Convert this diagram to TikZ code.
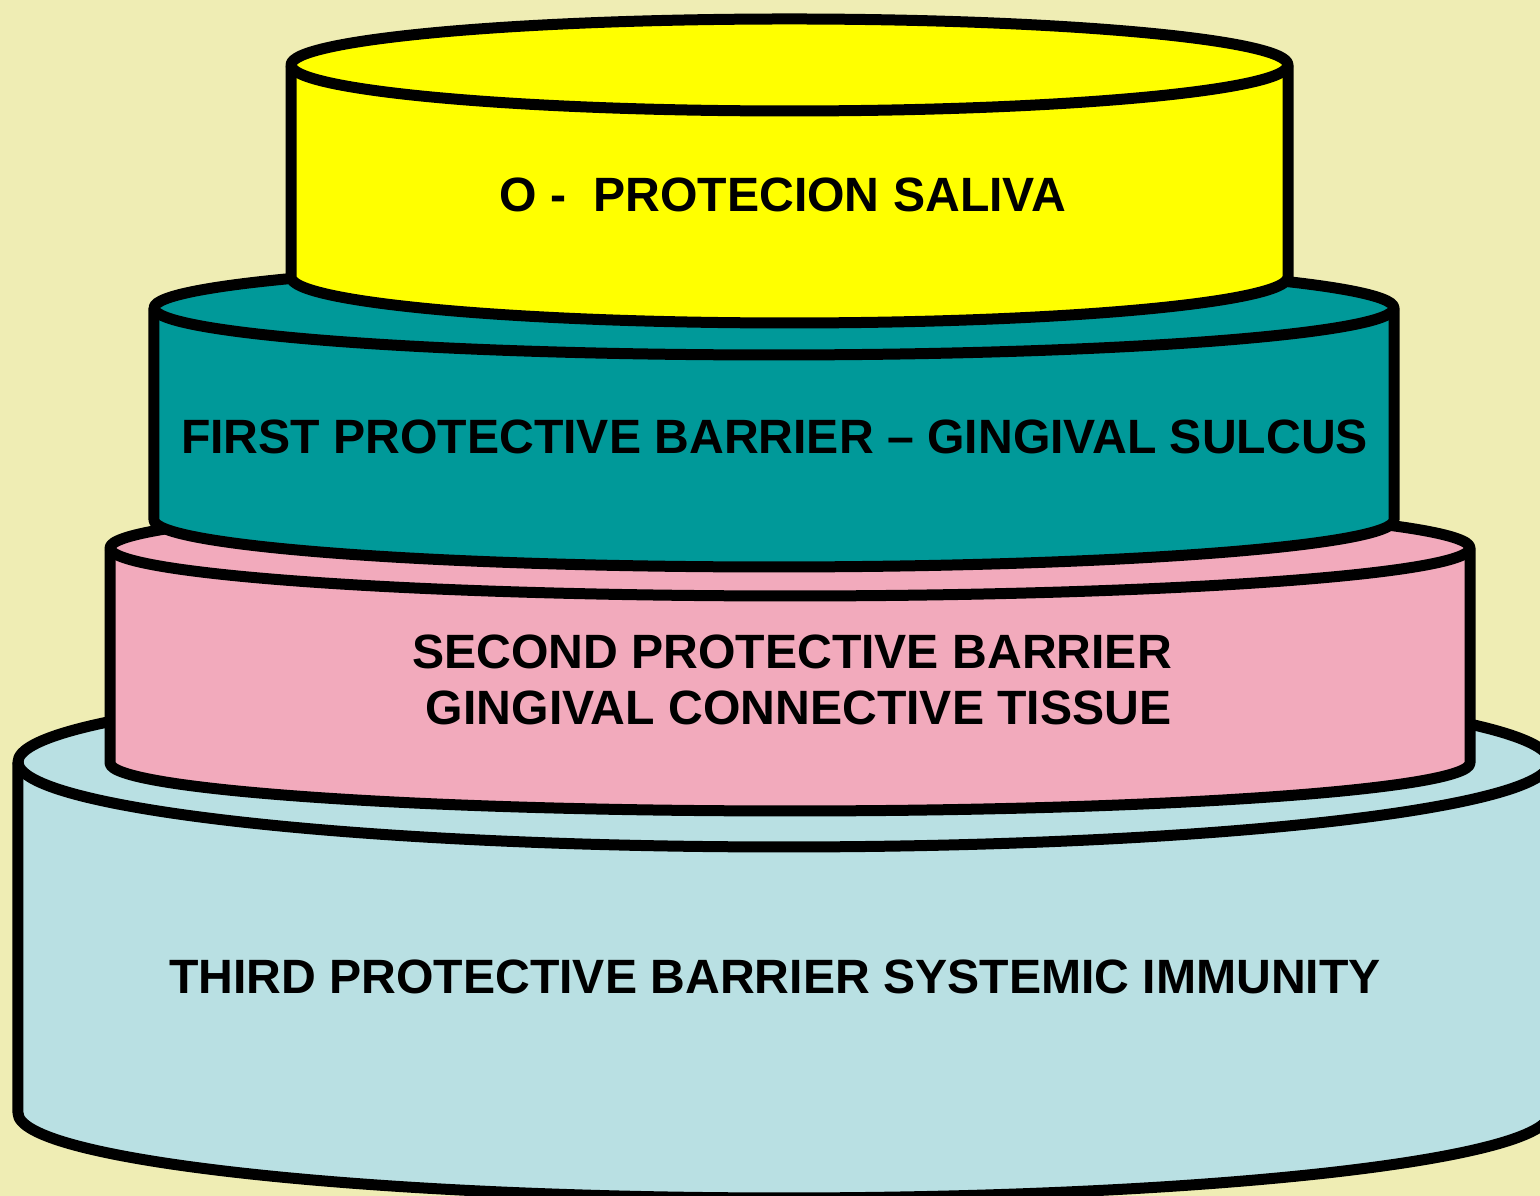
\documentclass[tikz,border=0pt]{standalone}
\usepackage{fontspec}
\setmainfont{Liberation Sans}
\definecolor{paper}{RGB}{239,237,180}
\definecolor{saliva}{RGB}{255,255,0}
\definecolor{sulcus}{RGB}{0,153,153}
\definecolor{tissue}{RGB}{242,170,188}
\definecolor{immunity}{RGB}{185,224,227}
\tikzset{
	layer/.style={line width=1.1mm,line join=round,draw=black},
	label/.style={font=\fontsize{13.7pt}{16pt}\selectfont\bfseries,align=center,inner sep=0pt}
}
\begin{document}
\begin{tikzpicture}
			\useasboundingbox (0,0) rectangle (15.4,11.96);
			\fill[paper] (0,0) rectangle (15.4,11.96);
			\clip (0,0) rectangle (15.4,11.96);
			% THIRD
			\filldraw[layer,fill=immunity] (0.18,4.34) -- (0.18,0.83) arc[start angle=180,end angle=360,x radius=7.66,y radius=0.85] -- (15.5,4.34) arc[start angle=0,end angle=180,x radius=7.66,y radius=0.85] -- cycle;
			\draw[layer] (0.18,4.34) arc[start angle=180,end angle=360,x radius=7.66,y radius=0.85];
			\node[label] (third) at (7.75,2.19) {THIRD PROTECTIVE BARRIER SYSTEMIC IMMUNITY};
			% SECOND
			\filldraw[layer,fill=tissue] (1.1,6.48) -- (1.1,4.33) arc[start angle=180,end angle=360,x radius=6.8,y radius=0.48] -- (14.7,6.48) arc[start angle=0,end angle=180,x radius=6.8,y radius=0.48] -- cycle;
			\draw[layer] (1.1,6.48) arc[start angle=180,end angle=360,x radius=6.8,y radius=0.48];
			\node[label] (second) at (7.92,5.16) {SECOND PROTECTIVE BARRIER\\\mbox{}\ GINGIVAL CONNECTIVE TISSUE};
			% FIRST
			\filldraw[layer,fill=sulcus] (1.54,8.88) -- (1.54,6.76) arc[start angle=180,end angle=360,x radius=6.2,y radius=0.47] -- (13.94,8.88) arc[start angle=0,end angle=180,x radius=6.2,y radius=0.47] -- cycle;
			\draw[layer] (1.54,8.88) arc[start angle=180,end angle=360,x radius=6.2,y radius=0.47];
			\node[label] (first) at (7.745,7.59) {FIRST PROTECTIVE BARRIER -- GINGIVAL SULCUS};
			% SALIVA
			\filldraw[layer,fill=saliva] (2.91,11.31) -- (2.91,9.19) arc[start angle=180,end angle=360,x radius=4.985,y radius=0.46] -- (12.88,11.31) arc[start angle=0,end angle=180,x radius=4.985,y radius=0.46] -- cycle;
			\draw[layer] (2.91,11.31) arc[start angle=180,end angle=360,x radius=4.985,y radius=0.46];
			\node[label] (saliva) at (7.83,10.01) {O -\ \ PROTECION SALIVA};
		\end{tikzpicture}
\end{document}
